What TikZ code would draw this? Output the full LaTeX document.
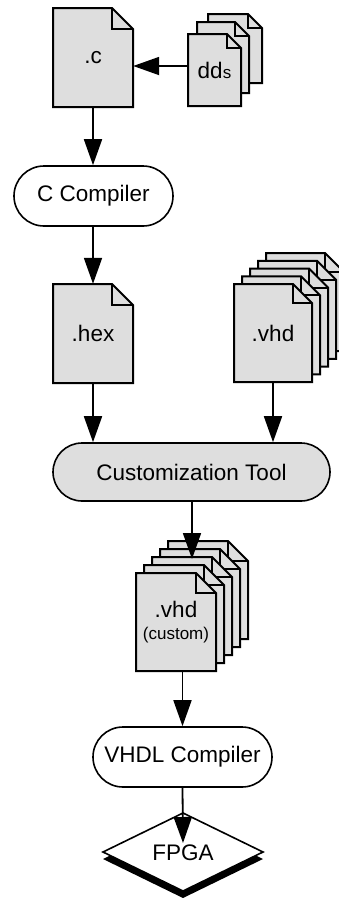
\documentclass[tikz,border=0pt]{standalone}
\usepackage{fontspec}
\setmainfont{Liberation Sans}
\usetikzlibrary{arrows.meta,backgrounds}
\definecolor{docgray}{RGB}{222,222,222}
\newcommand\mainsz{\fontsize{22.5}{24}\selectfont}
\newcommand\smallsz{\fontsize{17}{19}\selectfont}
\newcommand\docshape[5]{%
 \filldraw[docsty] (#1,#2+#4) -- (#1,#2) -- (#1+#3-#5,#2) -- (#1+#3,#2+#5) -- (#1+#3,#2+#4) -- cycle;
 \draw[docsty,fill=none] (#1+#3-#5,#2) -- (#1+#3-#5,#2+#5) -- (#1+#3,#2+#5);}
\begin{document}
\begin{tikzpicture}[x=1pt,y=-1pt,
 docsty/.style={draw=black, fill=docgray, line width=2pt, line join=miter},
 txt/.style={font=\mainsz, inner sep=0pt, align=center},
 term/.style={draw, line width=1.6pt, rounded corners=30pt, minimum height=60pt, inner sep=0pt, font=\mainsz},
 arr/.style={line width=1.8pt, -{Triangle[length=26pt,width=18pt]}}]
\useasboundingbox (0,0) rectangle (339,898);
\node[txt, minimum width=80pt, minimum height=99pt] (c) at (93,57.5) {.c};
\node[txt, minimum width=53pt, minimum height=64pt] (dds) at (214.5,70) {dd{\smallsz s}};
\node[term, fill=white, minimum width=159pt] (cc) at (93.5,196) {C Compiler};
\node[txt, minimum width=80pt, minimum height=99pt] (hex) at (93,333.5) {.hex};
\node[txt, minimum width=78pt, minimum height=98pt] (vhd) at (273,333) {.vhd};
\node[term, fill=docgray, minimum width=277pt, minimum height=58pt, rounded corners=29pt] (ct) at (191.5,472) {Customization Tool};
\node[txt, minimum width=80pt, minimum height=98pt] (cv) at (176,622) {.vhd\\[-2pt]{\smallsz (custom)}};
\node[term, fill=white, minimum width=179pt] (vc) at (182.5,757) {VHDL Compiler};
\node[txt] (fpga) at (183,853) {FPGA};
\begin{scope}[on background layer]
\docshape{53}{8}{80}{99}{21}
\docshape{208}{14}{54}{69}{14}
\docshape{197}{22}{52}{71}{14}
\docshape{188}{34}{53}{72}{14}
\docshape{53}{284}{80}{99}{21}
\foreach \k in {4,3,2,1,0} {\docshape{234+8*\k}{284-7.75*\k}{78}{98}{19}}
\foreach \k in {4,3,2,1,0} {\docshape{136+8*\k}{573-8*\k}{80}{98}{20}}
\fill[black] (103,859) -- (183,820) -- (263,859) -- (183,898) -- cycle;
\draw[fill=white, line width=1.6pt] (103,852) -- (183,813) -- (263,852) -- (183,891) -- cycle;
\end{scope}
\draw[arr] ([yshift=4pt]dds.west) -- ([yshift=4pt]dds.west -| c.east);
\draw[arr] (c.south) -- (c.south |- cc.north);
\draw[arr] (c.south |- cc.south) -- (hex.north);
\draw[arr] (hex.south) -- (hex.south |- ct.north);
\draw[arr] (vhd.south) -- (vhd.south |- ct.north);
\coordinate (cvin) at (192,559);
\draw[arr] (ct.south -| cvin) -- (cvin);
\draw[arr] (cv.south -| vc.north) -- (vc.north);
\coordinate (fpin) at (183,843);
\draw[arr] (vc.south) -- (fpin);
\end{tikzpicture}
\end{document}
